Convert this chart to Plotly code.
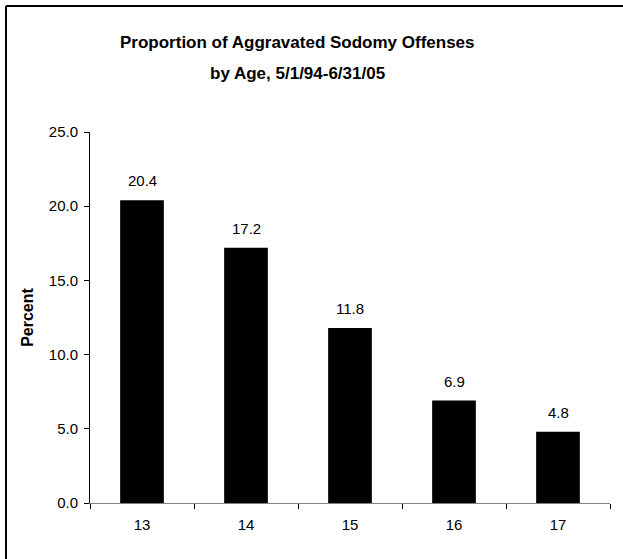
import plotly.graph_objects as go

# Data
ages = ["13", "14", "15", "16", "17"]
percent = [20.4, 17.2, 11.8, 6.9, 4.8]
y_ticks = [0, 5, 10, 15, 20, 25]
y_tick_labels = ["0.0", "5.0", "10.0", "15.0", "20.0", "25.0"]
title_lines = ["Proportion of Aggravated Sodomy Offenses", "by Age, 5/1/94-6/31/05"]

W, H = 623, 559
L, R, T, B = 90, 13, 132, 56
pw, ph = W - L - R, H - T - B

def px_x(px):
    return (px - L) / pw

def px_y(py):
    return (H - B - py) / ph

FONT = "Liberation Sans, Arial, sans-serif"

fig = go.Figure()
fig.add_trace(go.Bar(
    x=ages, y=percent, width=0.42,
    marker=dict(color="black", line=dict(width=0)),
    hoverinfo="x+y",
))

annotations = []
for i, v in enumerate(percent):
    # category positions are addressed by index on a category axis
    annotations.append(dict(
        x=i, y=v, xref="x", yref="y", text=f"{v:.1f}", showarrow=False,
        yanchor="bottom", yshift=9, font=dict(size=15, color="black", family=FONT),
    ))

for i, line in enumerate(title_lines):
    annotations.append(dict(
        x=px_x(297), y=px_y(43 + i * 31), xref="paper", yref="paper",
        text=f"<b>{line}</b>", showarrow=False, xanchor="center", yanchor="middle",
        font=dict(size=17, color="black", family=FONT),
    ))

shapes = [
    dict(type="line", xref="paper", yref="paper",
         x0=px_x(6), y0=px_y(6), x1=px_x(W + 20), y1=px_y(6),
         line=dict(color="black", width=2)),
    dict(type="line", xref="paper", yref="paper",
         x0=px_x(6), y0=px_y(6), x1=px_x(6), y1=px_y(H + 20),
         line=dict(color="black", width=2)),
]

fig.update_layout(
    width=W, height=H,
    margin=dict(l=L, r=R, t=T, b=B, autoexpand=False),
    paper_bgcolor="white", plot_bgcolor="white",
    showlegend=False,
    font=dict(family=FONT, color="black", size=15),
    annotations=annotations,
    shapes=shapes,
)

fig.update_xaxes(
    type="category", categoryorder="array", categoryarray=ages,
    range=[-0.5, len(ages) - 0.5], tickson="boundaries",
    showline=True, linecolor="#808080", linewidth=1,
    ticks="outside", ticklen=5, tickcolor="black", tickwidth=1,
    showgrid=False, zeroline=False,
    tickfont=dict(size=15, family=FONT, color="black"),
    ticklabelstandoff=8,
)

fig.update_yaxes(
    range=[0, 25], tickvals=y_ticks, ticktext=y_tick_labels,
    showline=True, linecolor="black", linewidth=1,
    ticks="outside", ticklen=5, tickcolor="black", tickwidth=1,
    showgrid=False, zeroline=False,
    tickfont=dict(size=15, family=FONT, color="black"),
    ticklabelstandoff=3,
    title=dict(text="<b>Percent</b>", font=dict(size=16, family=FONT, color="black"), standoff=11),
)

fig.write_html("out.html")
